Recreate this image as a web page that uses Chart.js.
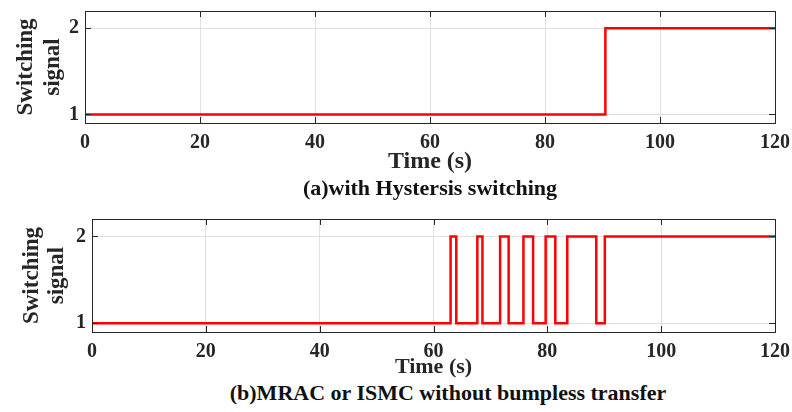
<!DOCTYPE html>
<html>
<head>
<meta charset="utf-8">
<script src="https://cdn.jsdelivr.net/npm/chart.js@4"></script>
<style>
  html, body { margin: 0; padding: 0; background: #fff; }
  #wrap { position: relative; width: 792px; height: 412px; overflow: hidden; }
  canvas { position: absolute; left: 0; }
  .caption {
    position: absolute; white-space: nowrap; transform: translate(-50%, -50%);
    font: bold 22px "Liberation Serif", "Times New Roman", serif; color: #111;
  }
</style>
</head>
<body>
<div id="wrap">
  <canvas id="chartA" width="792" height="175" style="top:0"></canvas>
  <canvas id="chartB" width="792" height="180" style="top:200px"></canvas>
  <div class="caption" style="left:430px; top:188px">(a)with Hystersis switching</div>
  <div class="caption" style="left:448px; top:393px">(b)MRAC or ISMC without bumpless transfer</div>
</div>
<script>
// switching instants (s) and the active controller index after each instant
const timeA = [0, 90.5, 120];
const signalA = [1, 2, 2];

const timeB = [0, 63.0, 64.0, 67.7, 68.6, 71.7, 73.2, 75.8, 77.5, 79.7, 81.4, 83.5, 88.6, 90.1, 120];
const signalB = [1, 2, 1, 2, 1, 2, 1, 2, 1, 2, 1, 2, 1, 2, 2];

const xTicks = [0, 20, 40, 60, 80, 100, 120];
const yTicks = [1, 2];

const axisColor = '#262626';
const serif = '"Liberation Serif", "Times New Roman", serif';

// box around the plot area with matlab-style inward ticks on all four sides
const frameTicks = {
  id: 'frameTicks',
  afterDraw(chart) {
    const {ctx, chartArea: {left, right, top, bottom}, scales: {x, y}} = chart;
    const len = 6;
    ctx.save();
    ctx.strokeStyle = axisColor;
    ctx.lineWidth = 1;
    ctx.beginPath();
    x.ticks.forEach(t => {
      const px = Math.round(x.getPixelForValue(t.value)) + 0.5;
      ctx.moveTo(px, bottom); ctx.lineTo(px, bottom - len);
      ctx.moveTo(px, top); ctx.lineTo(px, top + len);
    });
    y.ticks.forEach(t => {
      const py = Math.round(y.getPixelForValue(t.value)) + 0.5;
      ctx.moveTo(left, py); ctx.lineTo(left + len, py);
      ctx.moveTo(right, py); ctx.lineTo(right - len, py);
    });
    ctx.stroke();
    ctx.strokeRect(Math.round(left) + 0.5, Math.round(top) + 0.5,
      Math.round(right - left), Math.round(bottom - top));
    ctx.restore();
  }
};

// fixed axis box sizes, and no extra room for the end labels
function fixBox(s, size) {
  if (s.isHorizontal()) s.height = size; else s.width = size;
  s.paddingTop = s.paddingBottom = s.paddingLeft = s.paddingRight = 0;
}

function makeChart(id, times, signal, o) {
  return new Chart(document.getElementById(id), {
    type: 'line',
    data: {
      datasets: [{
        data: times.map((t, i) => ({x: t, y: signal[i]})),
        stepped: true,
        borderColor: '#ff0000',
        borderWidth: 2.5,
        pointRadius: 0,
        fill: false
      }]
    },
    options: {
      responsive: false,
      animation: false,
      layout: {padding: {top: o.padTop, right: 17, left: 0, bottom: 0}},
      plugins: {legend: {display: false}, tooltip: {enabled: false}},
      scales: {
        x: {
          type: 'linear',
          min: 0,
          max: 120,
          afterBuildTicks: s => { s.ticks = xTicks.map(v => ({value: v})); },
          afterFit: s => fixBox(s, o.xHeight),
          grid: {color: '#e0e0e0', drawTicks: false},
          border: {display: false},
          ticks: {color: axisColor, padding: 8, font: {family: serif, size: 20, weight: 'bold'}},
          title: {
            display: true,
            text: 'Time (s)',
            color: axisColor,
            padding: {top: 0, bottom: o.xTitlePad},
            font: {family: serif, size: o.xTitleSize, weight: 'bold', lineHeight: 1}
          }
        },
        y: {
          min: 0.9,
          max: 2.2,
          afterBuildTicks: s => { s.ticks = yTicks.map(v => ({value: v})); },
          afterFit: s => fixBox(s, o.yWidth),
          grid: {color: '#e0e0e0', drawTicks: false},
          border: {display: false},
          ticks: {color: axisColor, padding: 6, font: {family: serif, size: 20, weight: 'bold'}},
          title: {
            display: true,
            text: ['Switching', 'signal'],
            color: axisColor,
            padding: {top: o.yTitlePad, bottom: 0},
            font: {family: serif, size: 23, weight: 'bold', lineHeight: o.yTitleLine}
          }
        }
      }
    },
    plugins: [frameTicks]
  });
}

makeChart('chartA', timeA, signalA, {padTop: 11, xHeight: 52, yWidth: 85, xTitleSize: 24, xTitlePad: 1, yTitlePad: 12, yTitleLine: 1.2});
makeChart('chartB', timeB, signalB, {padTop: 19, xHeight: 48, yWidth: 92, xTitleSize: 22, xTitlePad: 2, yTitlePad: 19, yTitleLine: 1.1});
</script>
</body>
</html>
